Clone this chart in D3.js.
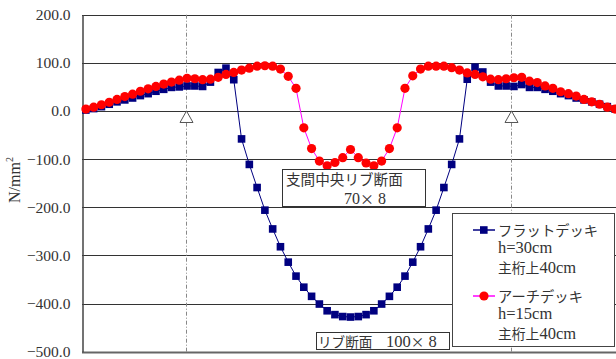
<!DOCTYPE html>
<html><head><meta charset="utf-8">
<script src="https://cdn.jsdelivr.net/npm/d3@7"></script>
<style>body{margin:0;background:#fff;overflow:hidden} svg{display:block}</style>
</head><body>
<svg id="c" width="616" height="359"></svg>
<script>
// Stress along the span (N/mm2), 69 points
const flatDeck = [2,5,9,14,19,23,27,32,36,41,45,49,50,52,52,51,60,80,89,65,
  -58,-111,-159,-206,-245,-282,-314,-343,-366,-385,-401,-415,-423,-427,-428,
  -427,-423,-415,-401,-385,-366,-343,-314,-282,-245,-206,-159,-111,-58,
  66,91,81,60,52,52,51,55,49,49,45,41,36,32,27,23,19,14,9,4];
const archDeck = [4,8,13,18,24,30,35,41,46,51,56,60,64,68,67,65,66,70,76,80,85,89,93,94,93,87,72,47,
  -35,-78,-104,-114,-107,-97,-80,-97,-108,-114,-104,-78,-35,
  47,73,87,93,93,93,90,85,79,76,71,66,65,67,69,70,62,59,52,47,40,36,31,24,19,14,8,4];
const yTicks = [200,100,0,-100,-200,-300,-400,-500];
const supports = [12.9, 54.6];
const seriesNames = [["フラットデッキ","h=30cm","主桁上40cm"],["アーチデッキ","h=15cm","主桁上40cm"]];
const noteMid = ["支間中央リブ断面","70× 8"];
const noteRib = "リブ断面　100× 8";
const yTitle = "N/mm";

const SERIF = '"Liberation Serif","DejaVu Serif",serif';
const CJK = '"Noto Sans CJK JP","Noto Sans CJK SC",sans-serif';
const svg = d3.select("#c");
const x = d3.scaleLinear().domain([-0.5, 68.5]).range([82, 619]);
const y = d3.scaleLinear().domain([-500, 200]).range([351.7, 14.7]);

function rich(sel, str, cjkSize, latSize) {
  const runs = str.match(/[\u3000-\u9fff\uff00-\uffef×]+|[^\u3000-\u9fff\uff00-\uffef×]+/g) || [];
  runs.forEach(r => {
    const isCjk = /[\u3000-\u9fff\uff00-\uffef×]/.test(r);
    sel.append("tspan").attr("font-family", isCjk ? CJK : SERIF)
      .attr("font-size", isCjk ? cjkSize : latSize).attr("xml:space", "preserve").text(r);
  });
  return sel;
}

// gridlines
svg.append("g").selectAll("line").data(yTicks).join("line")
  .attr("x1", 82).attr("x2", 616)
  .attr("y1", d => Math.round(y(d)) + 0.5).attr("y2", d => Math.round(y(d)) + 0.5)
  .attr("stroke", d => d === -500 ? "#666" : "#333")
  .attr("stroke-width", d => d === -500 ? 2 : 1);

// y axis
const yAxis = d3.axisLeft(y).tickValues(yTicks).tickFormat(d3.format(".1f")).tickSize(0).tickPadding(12);
const ga = svg.append("g").attr("transform", "translate(82.5,0)").call(yAxis);
ga.select(".domain").attr("stroke", "#444").attr("stroke-width", 1.5);
ga.selectAll("text").attr("font-family", SERIF).attr("font-size", 15.5).attr("fill", "#333")
  .text(d => d3.format(".1f")(d).replace("-", "\u2212"));

// axis title
const tt = svg.append("text").attr("transform", "translate(20,180) rotate(-90)")
  .attr("text-anchor", "middle").attr("font-family", SERIF).attr("font-size", 16).attr("fill", "#333");
tt.append("tspan").text(yTitle);
tt.append("tspan").attr("dy", -7).attr("font-size", 10).text("2");

// support lines + triangles
svg.append("g").selectAll("line").data(supports).join("line")
  .attr("x1", d => Math.round(x(d)) + 0.5).attr("x2", d => Math.round(x(d)) + 0.5)
  .attr("y1", y(200)).attr("y2", y(-500))
  .attr("stroke", "#888").attr("stroke-dasharray", "4,2,1,2");
svg.append("g").selectAll("path").data(supports).join("path")
  .attr("d", d => { const cx = Math.round(x(d)) + 0.5, t = y(0); return `M${cx},${t}L${cx-6.5},${t+11.5}L${cx+6.5},${t+11.5}Z`; })
  .attr("fill", "#fff").attr("stroke", "#555").attr("stroke-width", 1);

// series
const line = d3.line().x((d, i) => x(i)).y(d => y(d));
svg.append("path").datum(flatDeck).attr("d", line).attr("fill", "none").attr("stroke", "#000080").attr("stroke-width", 1);
svg.append("g").selectAll("rect").data(flatDeck).join("rect")
  .attr("x", (d, i) => x(i) - 3.8).attr("y", d => y(d) - 3.8).attr("width", 7.6).attr("height", 7.6)
  .attr("fill", "#000080");
svg.append("path").datum(archDeck).attr("d", line).attr("fill", "none").attr("stroke", "#ff00ff").attr("stroke-width", 1);
svg.append("g").selectAll("circle").data(archDeck).join("circle")
  .attr("cx", (d, i) => x(i)).attr("cy", d => y(d)).attr("r", 4.6).attr("fill", "#ff0000");

// annotation boxes
svg.append("rect").attr("x", 282.5).attr("y", 169.5).attr("width", 143).attr("height", 37)
  .attr("fill", "#fff").attr("stroke", "#333");
rich(svg.append("text").attr("x", 286).attr("y", 185).attr("fill", "#333"), noteMid[0], 14.6, 16.5);
rich(svg.append("text").attr("x", 344).attr("y", 204).attr("fill", "#333"), noteMid[1], 14, 16);

svg.append("rect").attr("x", 316.5).attr("y", 332.5).attr("width", 133).attr("height", 17)
  .attr("fill", "#fff").attr("stroke", "#333");
rich(svg.append("text").attr("x", 318).attr("y", 347).attr("fill", "#333"), noteRib, 13.6, 16.5);

// legend
const lg = svg.append("g");
lg.append("rect").attr("x", 452.5).attr("y", 213.5).attr("width", 162).attr("height", 133)
  .attr("fill", "#fff").attr("stroke", "#444");
const legY = [230, 296];
const lineOff = [5.5, 23, 43];
const colors = [["#000080", "#000080"], ["#ff00ff", "#ff0000"]];
seriesNames.forEach((names, k) => {
  const yy = legY[k];
  lg.append("line").attr("x1", 473).attr("x2", 495).attr("y1", yy).attr("y2", yy).attr("stroke", colors[k][0]).attr("stroke-width", 1.5);
  if (k === 0) lg.append("rect").attr("x", 480).attr("y", yy - 3.8).attr("width", 7.6).attr("height", 7.6).attr("fill", colors[k][1]);
  else lg.append("circle").attr("cx", 484).attr("cy", yy).attr("r", 4.6).attr("fill", colors[k][1]);
  names.forEach((t, j) => {
    rich(lg.append("text").attr("x", 498).attr("y", yy + lineOff[j]).attr("fill", "#333"), t, j === 2 ? 13.8 : 14.3, 16.5);
  });
});
</script>
</body></html>
